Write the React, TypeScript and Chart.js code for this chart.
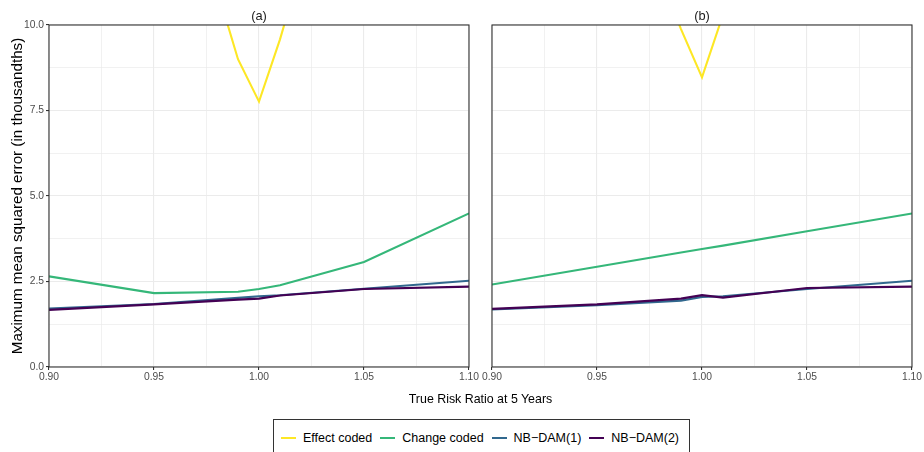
import React, { useEffect, useRef } from 'react';
import { Chart, registerables } from 'chart.js';

Chart.register(...registerables);

// ---------- data ----------
const riskRatios = [0.9, 0.95, 0.99, 1.0, 1.01, 1.05, 1.1];
const seriesNames = ['Effect coded', 'Change coded', 'NB\u2212DAM(1)', 'NB\u2212DAM(2)'];
const seriesColors = ['#FDE725', '#35B779', '#31688E', '#440154'];
const panelTitles = ['(a)', '(b)'];

const effectCodedA = [22.0, 17.2, 9.0, 7.76, 9.58, 18.0, 26.0];
const changeCodedA = [2.65, 2.16, 2.2, 2.28, 2.39, 3.07, 4.49];
const nbDam1A = [1.71, 1.84, 2.02, 2.07, 2.1, 2.29, 2.52];
const nbDam2A = [1.67, 1.83, 1.97, 2.0, 2.09, 2.28, 2.35];

const effectCodedB = [24.0, 16.0, 9.88, 8.47, 10.3, 20.0, 27.0];
const changeCodedB = [2.41, 2.93, 3.35, 3.45, 3.55, 3.97, 4.49];
const nbDam1B = [1.68, 1.81, 1.94, 2.05, 2.07, 2.28, 2.52];
const nbDam2B = [1.7, 1.83, 2.0, 2.1, 2.03, 2.31, 2.35];

const xMin = 0.9;
const xMax = 1.1;
const xStep = 0.025; // minor grid step
const xMajor = 0.05;
const yMin = 0;
const yMax = 10;
const yStep = 1.25;
const yMajor = 2.5;

const xAxisTitle = 'True Risk Ratio at 5 Years';
const yAxisTitle = 'Maximum mean squared error (in thousandths)';

const FONT = '"Liberation Sans", Arial, Helvetica, sans-serif';

const isMajor = (v: number, major: number) => {
  const r = v / major;
  return Math.abs(r - Math.round(r)) < 1e-6;
};

const panelBorder = {
  id: 'panelBorder',
  afterDatasetsDraw(chart: any) {
    const { ctx, chartArea: a } = chart;
    ctx.save();
    ctx.strokeStyle = '#333333';
    ctx.lineWidth = 1.1;
    ctx.strokeRect(a.left, a.top, a.right - a.left, a.bottom - a.top);
    ctx.restore();
  },
};

function makeConfig(panel: number, series: number[][]): any {
  const first = panel === 0;
  const datasets = series.map((vals, i) => ({
    label: seriesNames[i],
    data: riskRatios.map((x, j) => ({ x, y: vals[j] })),
    borderColor: seriesColors[i],
    backgroundColor: seriesColors[i],
    borderWidth: 2.1,
    pointRadius: 0,
    tension: 0,
    clip: 0,
    order: series.length - i,
  }));
  const gridColor = '#EBEBEB';
  return {
    type: 'line',
    data: { datasets },
    plugins: [panelBorder],
    options: {
      animation: false,
      responsive: true,
      maintainAspectRatio: false,
      events: [],
      layout: { padding: { left: first ? 0 : 12, right: first ? 11 : 12, top: 0, bottom: 0 } },
      plugins: {
        legend: { display: false },
        tooltip: { enabled: false },
        title: {
          display: true,
          text: panelTitles[panel],
          fullSize: false,
          color: '#1A1A1A',
          font: { family: FONT, size: 12.8, weight: 'normal', lineHeight: 1.2 },
          padding: { top: 8.5, bottom: 1.14 },
        },
      },
      scales: {
        x: {
          type: 'linear',
          min: xMin,
          max: xMax,
          afterFit: (s: any) => {
            s.height = 33;
          },
          border: { display: false },
          grid: {
            color: gridColor,
            lineWidth: (c: any) => (c.tick && isMajor(c.tick.value, xMajor) ? 1.1 : 0.7),
            tickColor: (c: any) => (c.tick && isMajor(c.tick.value, xMajor) ? '#333333' : 'rgba(0,0,0,0)'),
            tickLength: 3,
            drawTicks: true,
          },
          ticks: {
            stepSize: xStep,
            autoSkip: false,
            maxRotation: 0,
            minRotation: 0,
            padding: 0.5,
            color: '#4D4D4D',
            font: { family: FONT, size: 10.3 },
            callback: (v: any) => (isMajor(Number(v), xMajor) ? Number(v).toFixed(2) : ''),
          },
        },
        y: {
          min: yMin,
          max: yMax,
          afterFit: (s: any) => {
            s.width = first ? 49 : 0;
          },
          border: { display: false },
          grid: {
            color: gridColor,
            lineWidth: (c: any) => (c.tick && isMajor(c.tick.value, yMajor) ? 1.1 : 0.7),
            tickColor: (c: any) => (c.tick && isMajor(c.tick.value, yMajor) ? '#333333' : 'rgba(0,0,0,0)'),
            tickLength: 3,
            drawTicks: first,
          },
          ticks: {
            display: first,
            stepSize: yStep,
            autoSkip: false,
            padding: 2,
            color: '#4D4D4D',
            font: { family: FONT, size: 10.3 },
            callback: (v: any) => (isMajor(Number(v), yMajor) ? Number(v).toFixed(1) : ''),
          },
          title: {
            display: first,
            text: yAxisTitle,
            color: '#000000',
            font: { family: FONT, size: 15.2, lineHeight: 1.2 },
            padding: { top: 8.9, bottom: 0 },
          },
        },
      },
    },
  };
}

function Panel({ panel, series, left, width }: { panel: number; series: number[][]; left: number; width: number }) {
  const ref = useRef<HTMLCanvasElement | null>(null);
  useEffect(() => {
    if (!ref.current) return;
    const chart = new Chart(ref.current, makeConfig(panel, series));
    return () => chart.destroy();
  }, []);
  return (
    <div style={{ position: 'absolute', left, top: 0, width, height: 400 }}>
      <canvas ref={ref} />
    </div>
  );
}

export default function App() {
  const seriesA = [effectCodedA, changeCodedA, nbDam1A, nbDam2A];
  const seriesB = [effectCodedB, changeCodedB, nbDam1B, nbDam2B];
  return (
    <div
      style={{
        position: 'fixed',
        left: 0,
        top: 0,
        width: 924,
        height: 452,
        overflow: 'hidden',
        background: '#FFFFFF',
        fontFamily: FONT,
      }}
    >
      <Panel panel={0} series={seriesA} left={0} width={480} />
      <Panel panel={1} series={seriesB} left={480} width={444} />
      <div
        style={{
          position: 'absolute',
          left: 49,
          width: 863,
          top: 392,
          textAlign: 'center',
          fontSize: 12.4,
          lineHeight: '14px',
          color: '#000000',
        }}
      >
        {xAxisTitle}
      </div>
      <div
        style={{
          position: 'absolute',
          left: 273,
          top: 419,
          width: 417,
          height: 50,
          boxSizing: 'border-box',
          border: '1px solid #333333',
          display: 'flex',
          alignItems: 'flex-start',
          paddingLeft: 7,
          paddingTop: 11,
          fontSize: 12.5,
          lineHeight: '14px',
          color: '#000000',
          whiteSpace: 'nowrap',
        }}
      >
        {seriesNames.map((name, i) => (
          <div key={name} style={{ display: 'flex', alignItems: 'center', marginRight: i < 3 ? 8 : 0 }}>
            <div style={{ width: 15, height: 2, background: seriesColors[i], marginRight: 7 }} />
            <span>{name}</span>
          </div>
        ))}
      </div>
    </div>
  );
}
